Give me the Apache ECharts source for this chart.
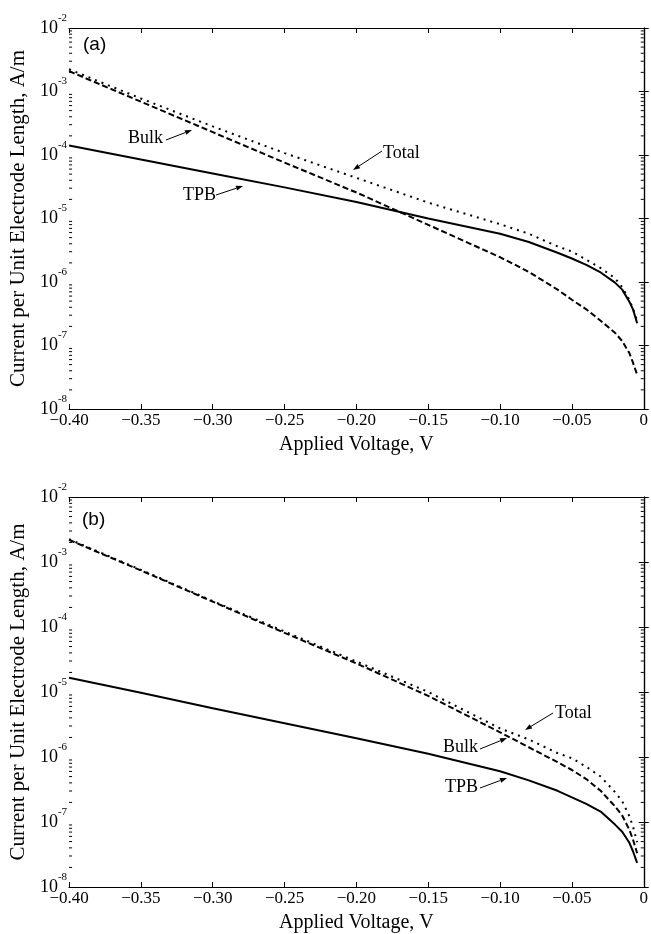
<!DOCTYPE html>
<html>
<head>
<meta charset="utf-8">
<script src="https://cdn.jsdelivr.net/npm/echarts@6/dist/echarts.min.js"></script>
<style>
  html, body { margin: 0; padding: 0; background: #fff; }
  #chart { width: 651px; height: 934px; }
</style>
</head>
<body>
<div id="chart"></div>
<script>
// applied voltage, V (same points in both panels)
const voltage = [-0.40, -0.35, -0.30, -0.25, -0.20, -0.15, -0.10, -0.08, -0.06, -0.05, -0.04, -0.03, -0.02, -0.015, -0.01, -0.0075, -0.0046];

// panel (a), A/m
const bulkA  = [2.089e-3, 6.918e-4, 2.291e-4, 7.586e-5, 2.570e-5, 7.943e-6, 2.455e-6, 1.445e-6, 7.586e-7, 5.248e-7, 3.715e-7, 2.455e-7, 1.585e-7, 1.175e-7, 7.586e-8, 5.370e-8, 3.467e-8];
const tpbA   = [1.413e-4, 8.511e-5, 5.129e-5, 3.090e-5, 1.820e-5, 1.000e-5, 5.754e-6, 4.266e-6, 2.884e-6, 2.344e-6, 1.862e-6, 1.413e-6, 9.772e-7, 7.586e-7, 4.898e-7, 3.715e-7, 2.239e-7];
const totalA = [2.239e-3, 7.762e-4, 2.818e-4, 1.072e-4, 4.365e-5, 1.778e-5, 8.128e-6, 5.754e-6, 3.631e-6, 3.020e-6, 2.239e-6, 1.660e-6, 1.148e-6, 8.318e-7, 5.248e-7, 3.802e-7, 2.455e-7];

// panel (b), A/m
const bulkB  = [2.188e-3, 7.413e-4, 2.455e-4, 8.128e-5, 2.754e-5, 8.710e-6, 2.399e-6, 1.413e-6, 8.318e-7, 6.310e-7, 4.571e-7, 3.020e-7, 1.738e-7, 1.259e-7, 7.586e-8, 5.370e-8, 3.311e-8];
const tpbB   = [1.660e-5, 9.772e-6, 5.623e-6, 3.311e-6, 1.950e-6, 1.122e-6, 6.026e-7, 4.365e-7, 3.020e-7, 2.399e-7, 1.905e-7, 1.445e-7, 9.120e-8, 7.079e-8, 4.786e-8, 3.548e-8, 2.344e-8];
const totalB = [2.239e-3, 7.586e-4, 2.512e-4, 8.511e-5, 2.951e-5, 1.000e-5, 2.754e-6, 1.862e-6, 1.148e-6, 9.550e-7, 7.079e-7, 5.012e-7, 2.884e-7, 2.089e-7, 1.230e-7, 8.511e-8, 4.898e-8];

const serif = 'Liberation Serif';

// minor ticks of the log axis: 2..9 of each decade
const minorTicks = [];
for (let e = -8; e < -2; e++) {
  for (let k = 2; k <= 9; k++) minorTicks.push([-0.4, k * Math.pow(10, e)]);
}

const pair = (ys) => voltage.map((v, i) => [v, ys[i]]);

function xAxes(gridIndex) {
  return [{
    type: 'value', gridIndex, position: 'bottom',
    min: -0.4, max: 0, interval: 0.05,
    name: 'Applied Voltage, V', nameLocation: 'middle', nameGap: 26,
    nameTextStyle: { fontFamily: serif, fontSize: 20, color: '#000' },
    axisLine: { lineStyle: { color: '#000', width: 1.2 } },
    axisTick: { inside: true, length: 5, lineStyle: { color: '#000' } },
    axisLabel: {
      fontFamily: serif, fontSize: 17, color: '#000', margin: 3,
      formatter: v => v === 0 ? '0' : '\u2212' + Math.abs(v).toFixed(2)
    },
    splitLine: { show: false }
  }, {
    type: 'value', gridIndex, position: 'top',
    min: -0.4, max: 0, interval: 0.05,
    axisLine: { lineStyle: { color: '#000', width: 1.2 } },
    axisTick: { inside: true, length: 5, lineStyle: { color: '#000' } },
    axisLabel: { show: false },
    splitLine: { show: false }
  }];
}

function yAxes(gridIndex) {
  return [{
    type: 'log', gridIndex, position: 'left', logBase: 10,
    min: 1e-8, max: 1e-2, splitNumber: 6,
    name: 'Current per Unit Electrode Length, A/m', nameLocation: 'middle', nameGap: 37,
    nameTextStyle: { fontFamily: serif, fontSize: 21, color: '#000' },
    axisLine: { lineStyle: { color: '#000', width: 1.2 } },
    axisTick: { inside: true, length: 5, lineStyle: { color: '#000' } },
    axisLabel: {
      margin: 2,
      formatter: v => '{b|10}{s|' + Math.round(Math.log10(v)) + '}',
      rich: {
        b: { fontFamily: serif, fontSize: 18, color: '#000' },
        s: { fontFamily: serif, fontSize: 11, color: '#000', padding: [0, 0, 20, 0] }
      }
    },
    splitLine: { show: false }
  }, {
    type: 'log', gridIndex, position: 'right', logBase: 10,
    min: 1e-8, max: 1e-2, splitNumber: 6,
    axisLine: { lineStyle: { color: '#000', width: 1.2 } },
    axisTick: { inside: true, length: 5, lineStyle: { color: '#000' } },
    axisLabel: { show: false },
    splitLine: { show: false }
  }];
}

function minorSeries(xi, yi) {
  return {
    type: 'custom', xAxisIndex: xi, yAxisIndex: yi, silent: true,
    data: minorTicks,
    renderItem: (params, api) => {
      const y = api.coord([-0.4, api.value(1)])[1];
      const x0 = api.coord([-0.4, 1e-8])[0];
      const x1 = api.coord([0, 1e-8])[0];
      const st = { stroke: '#000', lineWidth: 1 };
      return {
        type: 'group',
        children: [
          { type: 'line', shape: { x1: x0, y1: y, x2: x0 + 3, y2: y }, style: st },
          { type: 'line', shape: { x1: x1, y1: y, x2: x1 - 3, y2: y }, style: st }
        ]
      };
    }
  };
}

function curve(name, ys, xi, yi, type) {
  return {
    name, type: 'line', xAxisIndex: xi, yAxisIndex: yi,
    data: pair(ys), showSymbol: false, smooth: false,
    lineStyle: { color: '#000', width: 2, type }
  };
}

function label(text, x, y, sans) {
  return {
    type: 'text', x, y,
    style: {
      text, fill: '#000', verticalAlign: 'top',
      font: sans ? '19px "Liberation Sans"' : '18px "Liberation Serif"'
    }
  };
}

function arrow(x1, y1, x2, y2) {
  const a = Math.atan2(y2 - y1, x2 - x1);
  const L = 7, W = 2.5;
  const bx = x2 - L * Math.cos(a), by = y2 - L * Math.sin(a);
  return {
    type: 'group',
    children: [
      { type: 'line', shape: { x1, y1, x2: bx, y2: by }, style: { stroke: '#000', lineWidth: 1 } },
      { type: 'polygon', shape: { points: [[x2, y2], [bx - W * Math.sin(a), by + W * Math.cos(a)], [bx + W * Math.sin(a), by - W * Math.cos(a)]] }, style: { fill: '#000' } }
    ]
  };
}

const chart = echarts.init(document.getElementById('chart'));
chart.setOption({
  backgroundColor: '#fff',
  animation: false,
  grid: [
    { left: 68, right: 6, top: 28, height: 381 },
    { left: 68, right: 6, top: 497, height: 390 }
  ],
  xAxis: [...xAxes(0), ...xAxes(1)],
  yAxis: [...yAxes(0), ...yAxes(1)],
  series: [
    minorSeries(0, 0),
    curve('TPB', tpbA, 0, 0, 'solid'),
    curve('Bulk', bulkA, 0, 0, [6, 3]),
    curve('Total', totalA, 0, 0, [2, 5]),
    minorSeries(2, 2),
    curve('TPB', tpbB, 2, 2, 'solid'),
    curve('Bulk', bulkB, 2, 2, [6, 3]),
    curve('Total', totalB, 2, 2, [2, 5])
  ],
  graphic: [
    label('(a)', 83, 35, true),
    label('Bulk', 128, 129),
    label('TPB', 183, 186),
    label('Total', 383, 144),
    arrow(166, 140, 192, 130),
    arrow(216, 195, 243, 186),
    arrow(382, 151, 353, 170),
    label('(b)', 82, 510, true),
    label('Total', 555, 704),
    label('Bulk', 443, 738),
    label('TPB', 445, 778),
    arrow(553, 713, 525, 730),
    arrow(480, 749, 507, 738),
    arrow(480, 788, 507, 778)
  ]
});
</script>
</body>
</html>
